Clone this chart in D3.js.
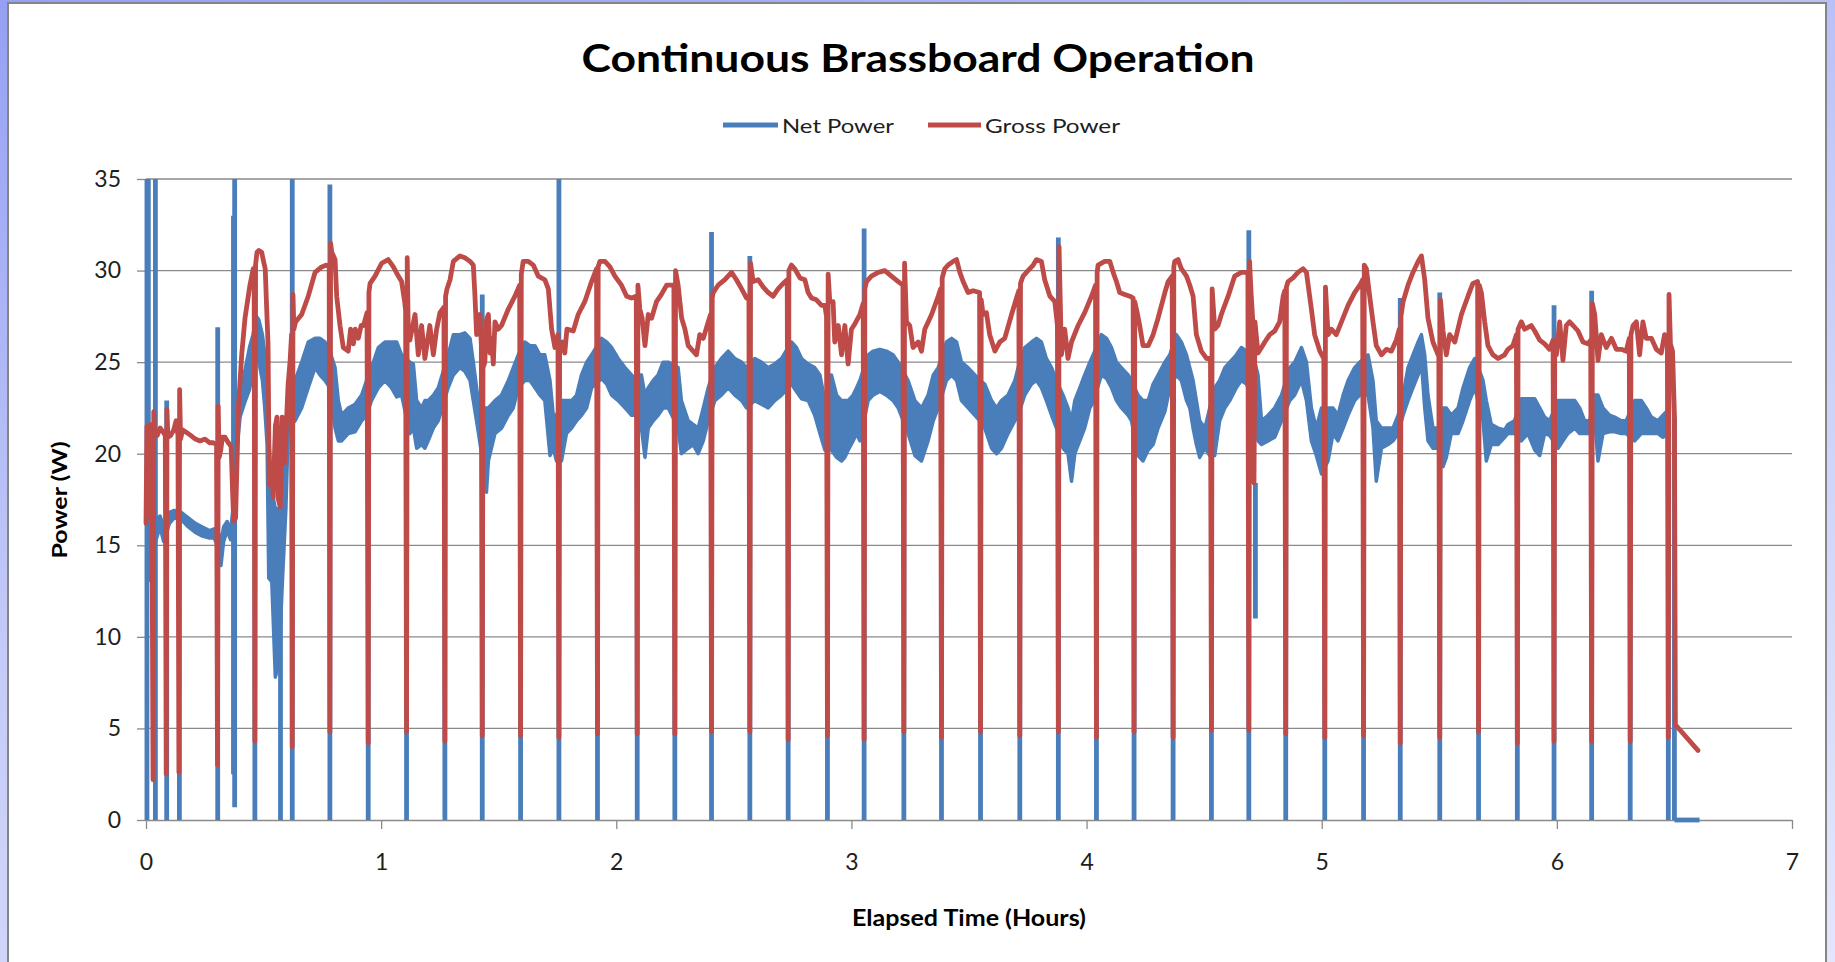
<!DOCTYPE html>
<html>
<head>
<meta charset="utf-8">
<script src="https://cdn.jsdelivr.net/npm/d3@7"></script>
<style>
  html, body { margin: 0; padding: 0; }
  body {
    width: 1835px; height: 962px; overflow: hidden;
    background: linear-gradient(165deg, #95a0f4 0%, #c4cbf8 45%, #e3e6fb 100%);
  }
  svg { display: block; }
</style>
</head>
<body>
<svg id="chart" width="1835" height="962"></svg>
<script>
// Chart text and ticks
const chartTitle = 'Continuous Brassboard Operation';
const seriesNames = ['Net Power', 'Gross Power'];
const xTicks = [0, 1, 2, 3, 4, 5, 6, 7];
const yTicks = [0, 5, 10, 15, 20, 25, 30, 35];

// Gross power, [hours, watts], drop-outs included
const grossPower = [
  [0.000, 16.2], [0.004, 21.5], [0.012, 21.0], [0.018, 21.6], [0.021, 16.5], [0.024, 21.2],
  [0.030, 2.2], [0.033, 22.3], [0.037, 21.0], [0.048, 21.0], [0.060, 21.4], [0.072, 21.2], [0.082, 21.0],
  [0.086, 2.5], [0.089, 22.4], [0.093, 20.9], [0.105, 21.0], [0.118, 21.3], [0.128, 21.8], [0.136, 21.0],
  [0.140, 2.6], [0.143, 23.5], [0.147, 20.8], [0.156, 21.3], [0.168, 21.2], [0.190, 21.0], [0.210, 20.8],
  [0.230, 20.7], [0.251, 20.8], [0.270, 20.6], [0.286, 20.6], [0.300, 20.5],
  [0.304, 3.0], [0.307, 22.6], [0.311, 19.8], [0.318, 20.2], [0.325, 20.9], [0.336, 20.9], [0.350, 20.6],
  [0.362, 20.4], [0.368, 18.0], [0.373, 16.3], [0.381, 16.5], [0.393, 22.5], [0.407, 25.4], [0.421, 27.4],
  [0.442, 29.2], [0.456, 30.1], [0.460, 30.0],
  [0.463, 4.3], [0.466, 30.3], [0.472, 31.0], [0.480, 31.1], [0.492, 31.0], [0.500, 30.5], [0.507, 30.1],
  [0.513, 28.0], [0.519, 26.0], [0.524, 18.3], [0.533, 19.5], [0.541, 17.6], [0.550, 21.5], [0.557, 22.0],
  [0.563, 17.5], [0.571, 17.1], [0.579, 22.0], [0.590, 19.5], [0.604, 23.7], [0.613, 25.1], [0.619, 26.5],
  [0.622, 4.0], [0.625, 28.7], [0.629, 26.8], [0.636, 27.2], [0.662, 27.6], [0.690, 28.6], [0.719, 29.9],
  [0.747, 30.2], [0.768, 30.3], [0.779, 30.2],
  [0.782, 4.8], [0.785, 31.5], [0.790, 31.0], [0.804, 30.6], [0.811, 28.6], [0.825, 27.0], [0.839, 25.8],
  [0.860, 25.6], [0.870, 26.8], [0.882, 26.0], [0.890, 26.8], [0.903, 26.3], [0.915, 27.0], [0.925, 27.0], [0.940, 27.7],
  [0.945, 4.2], [0.948, 28.8], [0.953, 29.3], [0.974, 29.7], [1.002, 30.4], [1.030, 30.6], [1.052, 30.2],
  [1.073, 29.7], [1.087, 29.4], [1.100, 28.3], [1.104, 27.8],
  [1.108, 4.8], [1.111, 30.7], [1.115, 26.9], [1.122, 26.2], [1.144, 27.6], [1.158, 25.4], [1.172, 27.0],
  [1.186, 25.2], [1.207, 27.0], [1.222, 25.4], [1.236, 26.8], [1.250, 27.7], [1.267, 28.0],
  [1.271, 4.3], [1.274, 28.6], [1.280, 29.0], [1.293, 29.5], [1.307, 30.5], [1.335, 30.8], [1.356, 30.7],
  [1.378, 30.5], [1.392, 30.3], [1.399, 28.6], [1.406, 26.5], [1.413, 27.0], [1.420, 27.6], [1.426, 26.0],
  [1.430, 4.6], [1.433, 24.7], [1.441, 25.0], [1.448, 27.3], [1.456, 27.6], [1.463, 25.5], [1.470, 26.3],
  [1.477, 24.9], [1.484, 27.2], [1.498, 26.8], [1.512, 27.0], [1.541, 27.9], [1.569, 28.6], [1.589, 29.2],
  [1.593, 4.6], [1.596, 29.8], [1.604, 30.5], [1.626, 30.5], [1.647, 30.3], [1.668, 29.7], [1.696, 29.5],
  [1.711, 29.0], [1.725, 26.8], [1.739, 25.8], [1.752, 26.5],
  [1.756, 4.5], [1.759, 25.5], [1.764, 25.8], [1.772, 26.1], [1.781, 25.5], [1.790, 26.8], [1.817, 26.7],
  [1.838, 27.6], [1.866, 28.3], [1.895, 29.4], [1.916, 30.1],
  [1.920, 4.7], [1.923, 30.2], [1.930, 30.5], [1.952, 30.5], [1.973, 30.2], [1.994, 29.7], [2.022, 29.2],
  [2.044, 28.6], [2.065, 28.5], [2.085, 28.6],
  [2.089, 4.7], [2.092, 29.2], [2.100, 27.9], [2.110, 27.4], [2.122, 25.9], [2.136, 27.6], [2.150, 27.4],
  [2.171, 28.3], [2.192, 28.7], [2.214, 29.2], [2.245, 29.2],
  [2.249, 4.7], [2.252, 30.0], [2.263, 29.2], [2.278, 27.4], [2.292, 26.8], [2.306, 25.9], [2.327, 25.6],
  [2.341, 25.4], [2.355, 26.5], [2.370, 26.3], [2.391, 27.2], [2.401, 27.6],
  [2.405, 4.8], [2.408, 28.5], [2.412, 28.8], [2.433, 29.2], [2.462, 29.5], [2.490, 29.9], [2.511, 29.5],
  [2.533, 29.0], [2.554, 28.5], [2.564, 28.6],
  [2.568, 4.8], [2.571, 30.4], [2.582, 29.4], [2.603, 29.5], [2.625, 29.1], [2.646, 28.8], [2.667, 28.6],
  [2.688, 29.0], [2.710, 29.3], [2.727, 29.5],
  [2.731, 4.4], [2.734, 30.0], [2.745, 30.3], [2.759, 30.1], [2.781, 29.6], [2.802, 29.5], [2.816, 28.8],
  [2.830, 28.5], [2.851, 28.4], [2.873, 28.1], [2.887, 28.1], [2.894, 27.5],
  [2.898, 4.6], [2.901, 29.8], [2.908, 28.3], [2.922, 28.3], [2.929, 26.1], [2.944, 27.0], [2.958, 25.4],
  [2.972, 27.0], [2.986, 24.9], [3.000, 26.8], [3.015, 27.1], [3.036, 27.6], [3.050, 28.2],
  [3.054, 4.4], [3.057, 29.0], [3.064, 29.4], [3.085, 29.7], [3.114, 29.9], [3.142, 30.0], [3.170, 29.7],
  [3.199, 29.4], [3.219, 29.2],
  [3.223, 4.8], [3.226, 30.4], [3.234, 27.2], [3.248, 27.0], [3.262, 25.8], [3.284, 26.1], [3.298, 25.6],
  [3.312, 26.8], [3.341, 27.6], [3.369, 28.6], [3.379, 29.0],
  [3.383, 4.5], [3.386, 29.6], [3.397, 30.1], [3.411, 30.3], [3.433, 30.5], [3.447, 30.6], [3.461, 29.9],
  [3.475, 29.4], [3.496, 28.8], [3.518, 28.9], [3.545, 28.8],
  [3.549, 4.8], [3.552, 28.4], [3.560, 27.6], [3.574, 27.7], [3.588, 26.5], [3.610, 25.6], [3.631, 26.1],
  [3.652, 26.3], [3.681, 27.6], [3.702, 28.5], [3.712, 28.9],
  [3.716, 4.6], [3.719, 29.3], [3.730, 29.7], [3.751, 30.0], [3.773, 30.3], [3.787, 30.6], [3.808, 30.5],
  [3.822, 29.5], [3.844, 28.6], [3.865, 28.3], [3.876, 27.0],
  [3.880, 4.8], [3.883, 31.3], [3.893, 25.4], [3.907, 26.8], [3.921, 25.2], [3.936, 26.1], [3.964, 27.0],
  [3.992, 27.7], [4.021, 28.6], [4.038, 29.2],
  [4.042, 4.5], [4.045, 29.9], [4.049, 30.3], [4.077, 30.5], [4.099, 30.5], [4.113, 29.9], [4.127, 29.4],
  [4.141, 28.8], [4.162, 28.7], [4.184, 28.6], [4.198, 28.5],
  [4.202, 4.8], [4.205, 28.3], [4.212, 27.9], [4.226, 27.0], [4.240, 25.9], [4.262, 25.9], [4.283, 26.5],
  [4.304, 27.4], [4.333, 28.8], [4.347, 29.4], [4.364, 29.7],
  [4.368, 4.5], [4.371, 30.2], [4.375, 30.5], [4.389, 30.6], [4.403, 30.1], [4.425, 29.7], [4.439, 29.2],
  [4.453, 28.6], [4.467, 26.5], [4.488, 25.6], [4.510, 25.2], [4.527, 25.2],
  [4.531, 4.9], [4.534, 29.0], [4.545, 26.8], [4.559, 27.0], [4.573, 27.6], [4.602, 28.6], [4.630, 29.7],
  [4.658, 29.9], [4.686, 29.9],
  [4.690, 4.9], [4.693, 30.5], [4.700, 28.7], [4.708, 27.0], [4.712, 18.4], [4.716, 27.2], [4.729, 25.5],
  [4.744, 25.8], [4.758, 26.1], [4.779, 26.5], [4.800, 26.7], [4.821, 27.2], [4.836, 28.6], [4.843, 28.9],
  [4.847, 4.7], [4.850, 29.1], [4.857, 29.4], [4.878, 29.6], [4.899, 29.9], [4.921, 30.1], [4.935, 29.9],
  [4.956, 27.9], [4.970, 26.5], [4.992, 25.6], [5.009, 25.2],
  [5.013, 4.5], [5.016, 29.1], [5.027, 26.5], [5.041, 26.8], [5.062, 26.5], [5.084, 27.2], [5.112, 28.1],
  [5.140, 28.8], [5.162, 29.2], [5.174, 29.5],
  [5.178, 4.6], [5.181, 30.3], [5.190, 30.1], [5.204, 28.6], [5.218, 27.2], [5.232, 25.9], [5.254, 25.4],
  [5.275, 25.7], [5.296, 25.6], [5.317, 26.2], [5.330, 26.8],
  [5.334, 4.2], [5.337, 27.5], [5.346, 28.3], [5.367, 29.2], [5.388, 29.9], [5.410, 30.5], [5.424, 30.8],
  [5.438, 29.5], [5.452, 27.4], [5.473, 26.1], [5.495, 25.4], [5.498, 25.6],
  [5.502, 4.5], [5.505, 28.4], [5.516, 26.7], [5.530, 25.4], [5.544, 26.5], [5.566, 26.1], [5.594, 27.6],
  [5.622, 28.6], [5.643, 29.3], [5.663, 29.4],
  [5.667, 4.8], [5.670, 29.2], [5.679, 28.8], [5.693, 27.2], [5.707, 25.9], [5.728, 25.4], [5.750, 25.2],
  [5.778, 25.4], [5.792, 25.7], [5.813, 25.9], [5.828, 26.5],
  [5.832, 4.2], [5.835, 26.8], [5.849, 27.2], [5.863, 26.8], [5.877, 26.9], [5.891, 27.0], [5.906, 26.7],
  [5.927, 26.2], [5.948, 26.0], [5.969, 25.7], [5.984, 26.2],
  [5.988, 4.3], [5.991, 26.0], [5.998, 25.4], [6.012, 27.2], [6.026, 25.1], [6.040, 27.0], [6.054, 27.2],
  [6.069, 27.0], [6.090, 26.7], [6.111, 26.1], [6.132, 26.0], [6.144, 26.2],
  [6.148, 4.3], [6.151, 28.2], [6.161, 27.6], [6.175, 25.1], [6.189, 26.5], [6.210, 25.8], [6.232, 26.3],
  [6.253, 25.7], [6.274, 25.7], [6.295, 25.6], [6.308, 26.3],
  [6.312, 4.3], [6.315, 26.5], [6.324, 27.0], [6.338, 27.2], [6.352, 25.4], [6.366, 27.2], [6.380, 26.3],
  [6.402, 26.3], [6.423, 25.7], [6.444, 25.5], [6.458, 26.5], [6.470, 26.0],
  [6.474, 4.5], [6.477, 28.7], [6.483, 26.0], [6.492, 25.6], [6.500, 22.1], [6.504, 5.2], [6.600, 3.8]
];

// Net power is a very noisy trace; kept as its min/max envelope [hours, low, high]
const netBand = [
  [0.003, 13.2, 14.0], [0.020, 15.5, 16.2], [0.040, 15.2, 16.4], [0.060, 16.0, 16.6], [0.075, 15.2, 16.0],
  [0.100, 16.2, 16.8], [0.120, 16.5, 16.9], [0.150, 16.4, 16.8], [0.180, 16.0, 16.5], [0.210, 15.7, 16.2],
  [0.240, 15.5, 16.0], [0.270, 15.4, 15.8], [0.290, 15.4, 15.9], [0.310, 14.8, 15.6], [0.319, 13.9, 15.2],
  [0.330, 15.2, 16.0], [0.345, 15.8, 16.3], [0.360, 15.3, 15.8], [0.370, 16.3, 17.0], [0.385, 20.0, 21.0],
  [0.400, 22.0, 23.2], [0.420, 22.8, 24.5], [0.440, 23.5, 25.8], [0.455, 24.5, 26.5], [0.470, 25.5, 27.5],
  [0.480, 25.0, 27.3], [0.495, 24.0, 26.5], [0.505, 22.5, 25.5], [0.515, 20.5, 22.5], [0.522, 13.2, 21.0],
  [0.535, 13.0, 18.0], [0.550, 7.8, 17.0], [0.565, 8.5, 17.0], [0.580, 13.0, 17.5], [0.595, 17.0, 21.5],
  [0.605, 21.4, 23.6], [0.634, 21.8, 24.0], [0.662, 22.5, 25.0], [0.690, 23.6, 26.1], [0.719, 24.7, 26.3],
  [0.740, 24.3, 26.3], [0.761, 24.0, 26.1], [0.782, 23.6, 25.6], [0.804, 21.4, 24.7], [0.818, 20.7, 22.9],
  [0.832, 20.7, 22.1], [0.860, 21.1, 22.5], [0.889, 21.2, 22.7], [0.917, 21.8, 23.2], [0.938, 22.1, 24.0],
  [0.959, 22.9, 24.7], [0.988, 23.6, 25.8], [1.016, 24.0, 26.1], [1.044, 23.6, 26.1], [1.066, 23.1, 26.1],
  [1.087, 23.2, 25.4], [1.122, 21.1, 25.0], [1.137, 21.4, 24.9], [1.151, 20.3, 22.9], [1.172, 20.5, 22.5],
  [1.186, 20.3, 22.9], [1.200, 20.7, 22.9], [1.222, 21.4, 23.2], [1.243, 21.8, 23.6], [1.285, 23.6, 25.4],
  [1.307, 24.3, 26.5], [1.335, 24.7, 26.5], [1.356, 24.5, 26.6], [1.378, 24.0, 26.3], [1.392, 22.9, 25.0],
  [1.413, 21.2, 22.9], [1.427, 20.0, 22.5], [1.448, 17.9, 22.5], [1.456, 19.6, 22.5], [1.484, 21.1, 22.9],
  [1.512, 21.4, 23.2], [1.541, 22.1, 24.0], [1.562, 22.5, 24.7], [1.583, 23.6, 25.4], [1.611, 24.0, 26.1],
  [1.633, 24.0, 25.9], [1.654, 23.6, 25.9], [1.675, 23.2, 25.4], [1.696, 22.9, 25.4], [1.718, 19.9, 24.0],
  [1.732, 20.3, 22.1], [1.746, 19.6, 22.1], [1.767, 19.6, 22.9], [1.788, 21.1, 22.9], [1.810, 21.4, 22.9],
  [1.831, 21.8, 23.2], [1.852, 22.1, 24.3], [1.874, 22.5, 25.0], [1.895, 23.6, 25.4], [1.937, 24.1, 26.3],
  [1.959, 23.8, 26.1], [1.980, 23.2, 25.8], [2.008, 22.9, 25.2], [2.037, 22.5, 24.7], [2.065, 22.1, 24.3],
  [2.086, 22.1, 24.0], [2.107, 21.4, 24.3], [2.122, 19.8, 23.2], [2.136, 21.4, 23.6], [2.157, 21.8, 24.0],
  [2.178, 22.1, 24.3], [2.199, 22.5, 25.0], [2.221, 22.5, 25.0], [2.263, 21.4, 24.7], [2.277, 20.0, 22.9],
  [2.306, 20.3, 21.8], [2.327, 20.5, 21.6], [2.348, 20.0, 21.4], [2.370, 20.7, 22.5], [2.391, 21.8, 23.6],
  [2.419, 22.9, 24.7], [2.447, 23.2, 25.2], [2.476, 23.6, 25.6], [2.504, 23.2, 25.2], [2.533, 22.9, 25.0],
  [2.554, 22.5, 24.7], [2.589, 22.9, 25.2], [2.617, 22.7, 25.0], [2.646, 22.5, 24.7], [2.674, 22.9, 24.9],
  [2.703, 23.2, 25.2], [2.745, 23.8, 26.1], [2.766, 23.4, 25.8], [2.788, 23.0, 25.2], [2.816, 22.9, 24.9],
  [2.844, 22.1, 24.7], [2.866, 21.1, 24.3], [2.887, 20.2, 22.9], [2.915, 20.2, 24.3], [2.937, 19.8, 23.2],
  [2.958, 19.6, 22.9], [2.972, 19.8, 22.9], [2.986, 20.2, 22.9], [3.007, 20.7, 23.2], [3.022, 21.1, 23.6],
  [3.036, 20.7, 24.0], [3.071, 22.9, 25.4], [3.092, 23.2, 25.6], [3.121, 23.4, 25.7], [3.149, 23.2, 25.6],
  [3.177, 22.9, 25.4], [3.199, 22.5, 25.0], [3.241, 21.1, 24.0], [3.270, 19.9, 22.9], [3.298, 19.6, 22.5],
  [3.326, 20.7, 23.2], [3.348, 21.8, 24.3], [3.369, 22.5, 24.7], [3.404, 24.0, 26.1], [3.426, 24.3, 26.3],
  [3.447, 24.0, 26.1], [3.468, 22.9, 25.0], [3.496, 22.5, 24.7], [3.525, 22.1, 24.3], [3.546, 21.8, 24.0],
  [3.567, 21.4, 23.8], [3.596, 20.3, 22.9], [3.617, 20.0, 22.5], [3.638, 20.3, 22.9], [3.666, 21.1, 23.2],
  [3.695, 21.8, 24.0], [3.709, 22.1, 24.7], [3.737, 23.2, 25.8], [3.766, 23.8, 26.1], [3.787, 24.0, 26.3],
  [3.808, 23.6, 26.1], [3.829, 22.9, 25.2], [3.851, 22.1, 24.7], [3.872, 21.4, 24.0], [3.900, 20.3, 23.2],
  [3.921, 20.0, 22.5], [3.936, 18.5, 21.8], [3.950, 20.0, 22.9], [3.971, 20.7, 23.6], [3.992, 21.4, 24.3],
  [4.014, 22.5, 25.0], [4.028, 22.8, 25.4], [4.063, 24.3, 26.5], [4.085, 24.1, 26.3], [4.106, 23.6, 25.8],
  [4.127, 22.9, 25.0], [4.148, 22.5, 24.7], [4.177, 22.1, 24.3], [4.191, 21.8, 24.0], [4.219, 19.9, 23.2],
  [4.240, 19.6, 22.9], [4.262, 20.2, 22.9], [4.283, 20.5, 23.8], [4.304, 21.4, 24.3], [4.333, 22.3, 25.0],
  [4.354, 23.6, 25.4], [4.382, 24.3, 26.5], [4.403, 24.0, 26.1], [4.425, 22.9, 25.4], [4.439, 22.5, 24.7],
  [4.453, 21.4, 24.0], [4.467, 20.5, 22.9], [4.481, 19.8, 21.8], [4.503, 20.3, 21.4], [4.524, 19.9, 22.5],
  [4.545, 19.9, 23.6], [4.566, 21.8, 24.0], [4.588, 22.5, 24.7], [4.609, 22.9, 25.0], [4.637, 23.6, 25.4],
  [4.658, 24.0, 25.8], [4.680, 23.8, 25.6], [4.708, 22.9, 25.4], [4.729, 20.7, 24.3], [4.744, 20.5, 21.8],
  [4.772, 20.7, 22.1], [4.800, 20.9, 22.5], [4.829, 21.8, 23.2], [4.864, 22.9, 24.7], [4.885, 23.2, 25.0],
  [4.914, 24.0, 25.8], [4.935, 22.9, 25.0], [4.956, 20.7, 22.5], [4.977, 19.9, 21.4], [4.999, 18.9, 22.5],
  [5.027, 19.6, 22.5], [5.048, 21.1, 22.5], [5.069, 20.7, 22.1], [5.091, 21.4, 23.2], [5.112, 22.1, 24.0],
  [5.140, 22.9, 24.7], [5.162, 23.2, 25.0], [5.197, 23.2, 25.4], [5.218, 21.4, 24.0], [5.232, 18.5, 21.8],
  [5.254, 20.3, 21.4], [5.282, 20.5, 21.4], [5.303, 20.7, 21.4], [5.325, 21.1, 22.1], [5.346, 22.1, 23.2],
  [5.367, 22.9, 24.7], [5.388, 23.6, 25.4], [5.410, 24.3, 26.1], [5.424, 25.0, 26.5], [5.438, 22.5, 25.4],
  [5.452, 20.7, 23.2], [5.473, 20.3, 21.4], [5.495, 20.3, 21.4], [5.516, 19.3, 22.5], [5.530, 19.8, 22.5],
  [5.551, 21.1, 22.1], [5.580, 21.1, 22.5], [5.601, 21.8, 23.6], [5.629, 22.9, 24.7], [5.651, 23.6, 25.2],
  [5.686, 21.8, 24.0], [5.700, 19.6, 22.9], [5.721, 20.5, 21.6], [5.750, 20.5, 21.4], [5.778, 20.9, 21.3],
  [5.792, 21.1, 21.6], [5.820, 21.1, 21.8], [5.849, 20.7, 23.0], [5.877, 21.1, 23.0], [5.906, 20.2, 23.0],
  [5.927, 19.9, 22.5], [5.948, 21.1, 22.0], [5.969, 21.0, 21.8], [6.005, 20.3, 22.9], [6.026, 20.7, 22.9],
  [6.047, 21.1, 22.9], [6.076, 21.4, 22.9], [6.097, 21.1, 22.5], [6.118, 21.1, 21.8], [6.140, 21.1, 21.8],
  [6.161, 21.8, 23.2], [6.175, 19.6, 23.2], [6.196, 21.1, 22.5], [6.224, 21.2, 22.1], [6.246, 21.2, 22.0],
  [6.274, 21.1, 21.8], [6.295, 21.1, 21.8], [6.331, 20.7, 22.9], [6.359, 21.1, 22.9], [6.380, 21.1, 22.5],
  [6.402, 21.1, 22.0], [6.430, 21.1, 21.8], [6.451, 20.9, 22.1], [6.466, 21.0, 22.3]
];

// Net power drop-outs and spikes [hours, from W, to W]
const netSpikes = [
  [0.004, 0, 35], [0.010, 13, 35], [0.040, 0, 35], [0.088, 0, 22.9], [0.142, 0, 16.8], [0.305, 0, 26.9],
  [0.372, 2.5, 33.0], [0.377, 0.7, 35], [0.463, 0, 25], [0.572, 0, 13], [0.622, 0, 35],
  [0.782, 0, 34.7], [0.945, 0, 23], [1.108, 0, 24], [1.271, 0, 23], [1.430, 0, 28.7],
  [1.593, 0, 25], [1.756, 0, 35], [1.920, 0, 25], [2.089, 0, 24], [2.249, 0, 24],
  [2.405, 0, 32.1], [2.568, 0, 30.8], [2.731, 0, 25], [2.898, 0, 23], [3.054, 0, 32.3],
  [3.223, 0, 25], [3.383, 0, 25], [3.549, 0, 24], [3.716, 0, 25], [3.880, 0, 31.8],
  [4.042, 0, 25], [4.202, 0, 24], [4.368, 0, 25], [4.531, 0, 24], [4.690, 0, 32.2],
  [4.718, 11.0, 18.4], [4.847, 0, 24], [5.013, 0, 22], [5.178, 0, 25], [5.334, 0, 28.5],
  [5.502, 0, 28.8], [5.667, 0, 25], [5.832, 0, 22], [5.988, 0, 28.1], [6.148, 0, 28.9],
  [6.312, 0, 22], [6.474, 0, 22], [6.500, 0, 22]
];

// Net power after shutdown
const netTail = [[6.500, 0], [6.607, 0]];

const blue = '#4a7ebb';
const red = '#be4b48';
const gridColor = '#8a8a8a';
const font = 'Lato, "Open Sans", sans-serif';

const svg = d3.select('#chart');

// white chart area with grey frame
svg.append('rect')
  .attr('x', 8).attr('y', 3)
  .attr('width', 1818).attr('height', 980)
  .attr('fill', '#ffffff')
  .attr('stroke', '#858585')
  .attr('stroke-width', 2);

// scales
const x = d3.scaleLinear().domain([0, 7]).range([146, 1792]);
const y = d3.scaleLinear().domain([0, 35]).range([820, 179]);

// horizontal gridlines
svg.append('g')
  .selectAll('line')
  .data(yTicks.filter(d => d > 0))
  .enter().append('line')
  .attr('x1', x(0)).attr('x2', x(7))
  .attr('y1', d => y(d)).attr('y2', d => y(d))
  .attr('stroke', gridColor)
  .attr('stroke-width', 1.3);

// y axis
const yAxis = svg.append('g')
  .attr('transform', `translate(${x(0)},0)`)
  .call(d3.axisLeft(y).tickValues(yTicks).tickSize(9).tickSizeOuter(0).tickPadding(16));

// x axis
const xAxis = svg.append('g')
  .attr('transform', `translate(0,${y(0)})`)
  .call(d3.axisBottom(x).tickValues(xTicks).tickSize(9).tickSizeOuter(0).tickPadding(25).tickFormat(d3.format('d')));

[yAxis, xAxis].forEach(g => {
  g.select('.domain').attr('stroke', gridColor).attr('stroke-width', 1.3);
  g.selectAll('.tick line').attr('stroke', gridColor).attr('stroke-width', 1.3);
  g.selectAll('.tick text')
    .attr('fill', '#1e1e1e')
    .style('font-family', font)
    .style('font-size', '23px');
});

// clip data to the plot area
svg.append('clipPath').attr('id', 'plot-clip')
  .append('rect')
  .attr('x', 138).attr('y', y(35))
  .attr('width', 1665).attr('height', y(0) - y(35) + 3);

const plot = svg.append('g').attr('clip-path', 'url(#plot-clip)');

// net power envelope
plot.append('path')
  .datum(netBand)
  .attr('d', d3.area()
    .x(d => x(d[0]))
    .y0(d => y(d[1]))
    .y1(d => y(d[2])))
  .attr('fill', blue)
  .attr('stroke', blue)
  .attr('stroke-width', 3.5)
  .attr('stroke-linejoin', 'round');

// net power drop-outs / spikes
plot.append('g')
  .selectAll('line')
  .data(netSpikes)
  .enter().append('line')
  .attr('x1', d => x(d[0])).attr('x2', d => x(d[0]))
  .attr('y1', d => y(d[1])).attr('y2', d => y(d[2]))
  .attr('stroke', blue)
  .attr('stroke-width', 4.8);

plot.append('path')
  .datum(netTail)
  .attr('d', d3.line().x(d => x(d[0])).y(d => y(d[1])))
  .attr('fill', 'none')
  .attr('stroke', blue)
  .attr('stroke-width', 4.8);

// gross power line
plot.append('path')
  .datum(grossPower)
  .attr('d', d3.line().x(d => x(d[0])).y(d => y(d[1])))
  .attr('fill', 'none')
  .attr('stroke', red)
  .attr('stroke-width', 4.8)
  .attr('stroke-linejoin', 'round')
  .attr('stroke-linecap', 'round');

// title
svg.append('text')
  .attr('x', 918).attr('y', 72)
  .attr('text-anchor', 'middle')
  .attr('textLength', 673).attr('lengthAdjust', 'spacingAndGlyphs')
  .style('font-family', font)
  .style('font-weight', 'bold')
  .style('font-size', '39px')
  .attr('fill', '#000')
  .text(chartTitle);

// legend
const legend = [
  { name: seriesNames[0], color: blue, x0: 723, x1: 778, textWidth: 112 },
  { name: seriesNames[1], color: red, x0: 928, x1: 981, textWidth: 135 }
];
const lg = svg.append('g');
legend.forEach(l => {
  lg.append('line')
    .attr('x1', l.x0).attr('x2', l.x1)
    .attr('y1', 125).attr('y2', 125)
    .attr('stroke', l.color)
    .attr('stroke-width', 5);
  lg.append('text')
    .attr('x', l.x1 + 4).attr('y', 132.5)
    .attr('textLength', l.textWidth).attr('lengthAdjust', 'spacingAndGlyphs')
    .style('font-family', font)
    .style('font-size', '19px')
    .attr('fill', '#1e1e1e')
    .text(l.name);
});

// axis titles
svg.append('text')
  .attr('x', 969).attr('y', 926)
  .attr('text-anchor', 'middle')
  .attr('textLength', 234).attr('lengthAdjust', 'spacingAndGlyphs')
  .style('font-family', font)
  .style('font-weight', 'bold')
  .style('font-size', '23px')
  .attr('fill', '#000')
  .text('Elapsed Time (Hours)');

svg.append('text')
  .attr('transform', 'translate(67,500) rotate(-90)')
  .attr('text-anchor', 'middle')
  .attr('textLength', 117).attr('lengthAdjust', 'spacingAndGlyphs')
  .style('font-family', font)
  .style('font-weight', 'bold')
  .style('font-size', '21px')
  .attr('fill', '#000')
  .text('Power (W)');
</script>
</body>
</html>
